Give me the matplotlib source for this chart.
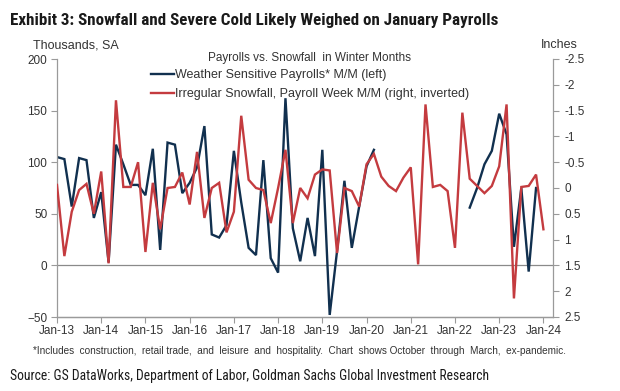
import matplotlib
matplotlib.use('Agg')
import matplotlib.pyplot as plt
from matplotlib import font_manager
from matplotlib.font_manager import FontProperties
import numpy as np

# ---------------- data ----------------
tick_labels = ['Jan-13', 'Jan-14', 'Jan-15', 'Jan-16', 'Jan-17', 'Jan-18',
               'Jan-19', 'Jan-20', 'Jan-21', 'Jan-22', 'Jan-23', 'Jan-24']

# Weather sensitive payrolls M/M (thousands, left axis); NaN = ex-pandemic gap
payrolls = [105, 103, 57, 104, 102, 46,
            71, 3, 117, 98, 78, 78,
            68, 113, 15, 119, 117, 70,
            80, 95, 135, 30, 27, 39,
            111, 61, 17, 10, 102, 7,
            -7, 162, 36, 4, 46, 9,
            112, -48, 14, 82, 17, 57,
            96, 112, np.nan, np.nan, np.nan, np.nan,
            np.nan, np.nan, np.nan, np.nan, np.nan, np.nan,
            np.nan, np.nan, 56, 75, 98, 111,
            147, 127, 18, 75, -6, 75,
            np.nan]

# Irregular snowfall, payroll week M/M (inches, right axis inverted)
snowfall = [-0.06, 1.32, 0.46, 0.04, -0.08, 0.50,
            -0.32, 1.46, -1.70, -0.02, -0.02, -0.50,
            1.24, -0.10, 0.80, 0.00, -0.02, -0.30,
            0.32, -0.70, 0.58, 0.00, -0.10, 0.86,
            0.46, -1.40, -0.16, 0.00, 0.04, 0.68,
            0.00, -0.74, 0.68, 0.00, 0.20, -0.26,
            -0.36, -0.34, 1.26, 0.00, 0.06, 0.36,
            -0.46, -0.66, -0.22, -0.04, 0.06, -0.20,
            -0.40, 1.48, -1.62, -0.02, -0.06, 0.06,
            1.16, -1.46, -0.18, -0.04, 0.10, -0.04,
            -0.42, -1.62, 2.14, -0.02, -0.04, -0.26,
            0.80]

left_ticks = [-50, 0, 50, 100, 150, 200]
right_ticks = [-2.5, -2, -1.5, -1, -0.5, 0, 0.5, 1, 1.5, 2, 2.5]
right_tick_labels = ['-2.5', '-2', '-1.5', '-1', '-0.5', '0', '0.5', '1', '1.5', '2', '2.5']

# ---------------- fonts ----------------
names = {f.name for f in font_manager.fontManager.ttflist}
base = 'Liberation Sans' if 'Liberation Sans' in names else 'DejaVu Sans'
plt.rcParams['font.family'] = [base, 'DejaVu Sans']


def _weight(w):
    if isinstance(w, (int, float)):
        return int(w)
    return {'bold': 700, 'semibold': 600, 'demibold': 600, 'heavy': 800, 'black': 900,
            'extra bold': 800, 'medium': 500, 'light': 300}.get(str(w).lower(), 400)


def condensed_font(bold):
    prefs = ['liberation sans narrow', 'roboto condensed', 'open sans', 'noto sans',
             'dejavu sans', 'roboto', 'lato']
    found = []
    for f in font_manager.fontManager.ttflist:
        n = f.name.lower()
        st = str(f.stretch).lower()
        cond = ('narrow' in n or 'condensed' in n or 'condensed' in st or 'narrow' in st
                or (isinstance(f.stretch, (int, float)) and f.stretch < 500))
        if not cond or str(f.style).lower() != 'normal':
            continue
        if 'mono' in n or 'serif' in n or 'cjk' in n:
            continue
        w = _weight(f.weight)
        if bold and not (600 <= w <= 800):
            continue
        if not bold and not (350 <= w <= 500):
            continue
        rank = next((i for i, p in enumerate(prefs) if n.startswith(p)), len(prefs))
        found.append((rank, f.fname))
    if found:
        found.sort()
        return FontProperties(fname=found[0][1])
    return FontProperties(family=[base, 'DejaVu Sans'], weight='bold' if bold else 'normal')


title_fp = condensed_font(True)
source_fp = condensed_font(False)

W, H = 620, 391
fig = plt.figure(figsize=(W / 100, H / 100), dpi=100)
L, R, T, B = 57, 553, 59, 317
ax = fig.add_axes([L / W, 1 - B / H, (R - L) / W, (B - T) / H])
ax2 = ax.twinx()

navy = '#11304f'
red = '#c43b3f'
grey = '#9a9a9a'
txt = '#333333'

x = np.arange(len(snowfall))
ln1, = ax.plot(x, payrolls, color=navy, lw=1.7, solid_joinstyle='miter')
ln2, = ax2.plot(x, snowfall, color=red, lw=1.7, solid_joinstyle='miter')

ax.set_ylim(-50, 200)
ax.set_yticks(left_ticks)
ax2.set_ylim(2.5, -2.5)
ax2.set_yticks(right_ticks)
ax2.set_yticklabels(right_tick_labels)
ax.set_xlim(0, 67.3)
ax.set_xticks(np.arange(len(tick_labels)) * 6)
ax.set_xticklabels(tick_labels)

ax.axhline(0, color='#8a8a8a', lw=0.9, zorder=0)

for a in (ax, ax2):
    a.spines['top'].set_visible(False)
    for s in ('left', 'right', 'bottom'):
        a.spines[s].set_color(grey)
        a.spines[s].set_linewidth(0.9)
    a.tick_params(colors=grey, labelcolor=txt, labelsize=8.5, length=4, width=0.8, direction='out')
ax2.spines['left'].set_visible(False)
ax.spines['right'].set_visible(False)
ax.tick_params(axis='y', pad=3)
ax2.tick_params(axis='y', pad=4)
ax.tick_params(axis='x', pad=2)

# texts
t_title = fig.text(10 / W, 1 - 21 / H,
                   'Exhibit 3: Snowfall and Severe Cold Likely Weighed on January Payrolls',
                   fontproperties=title_fp, fontsize=11.5, color='#1a1a1a', ha='left', va='center')
if 'bold' not in str(title_fp.get_weight()) and title_fp.get_file() is None:
    t_title.set_fontweight('bold')
fig.text(33 / W, 1 - 45 / H, 'Thousands, SA', fontsize=9, color=txt, ha='left', va='center')
fig.text(578 / W, 1 - 45 / H, 'Inches', fontsize=9, color=txt, ha='right', va='center')
fig.text(310 / W, 1 - 58 / H, 'Payrolls vs. Snowfall  in Winter Months', fontsize=8.5, color=txt,
         ha='center', va='center')

fig.legend([ln1, ln2], ['Weather Sensitive Payrolls* M/M (left)',
                        'Irregular Snowfall, Payroll Week M/M (right, inverted)'],
           loc='upper left', bbox_to_anchor=(151 / W, 1 - 69 / H), bbox_transform=fig.transFigure,
           frameon=False, fontsize=9, handlelength=1.85, handletextpad=0.1, borderpad=0,
           borderaxespad=0, labelspacing=0.6, labelcolor=txt)

t_foot = fig.text(33 / W, 1 - 351 / H,
                  '*Includes  construction,  retail trade,  and  leisure  and  hospitality.  Chart  shows October  through  March,  ex-pandemic.',
                  fontsize=6.5, color=txt, ha='left', va='center')
t_src = fig.text(10 / W, 1 - 376 / H,
                 'Source: GS DataWorks, Department of Labor, Goldman Sachs Global Investment Research',
                 fontproperties=source_fp, fontsize=9.5, color='#1a1a1a', ha='left', va='center')

# fit text widths to the reference layout
fig.canvas.draw()
rend = fig.canvas.get_renderer()
for t, target in ((t_title, 487), (t_foot, 535), (t_src, 480)):
    w = t.get_window_extent(rend).width
    t.set_fontsize(t.get_fontsize() * target / w)

fig.savefig('out.png', dpi=100)
